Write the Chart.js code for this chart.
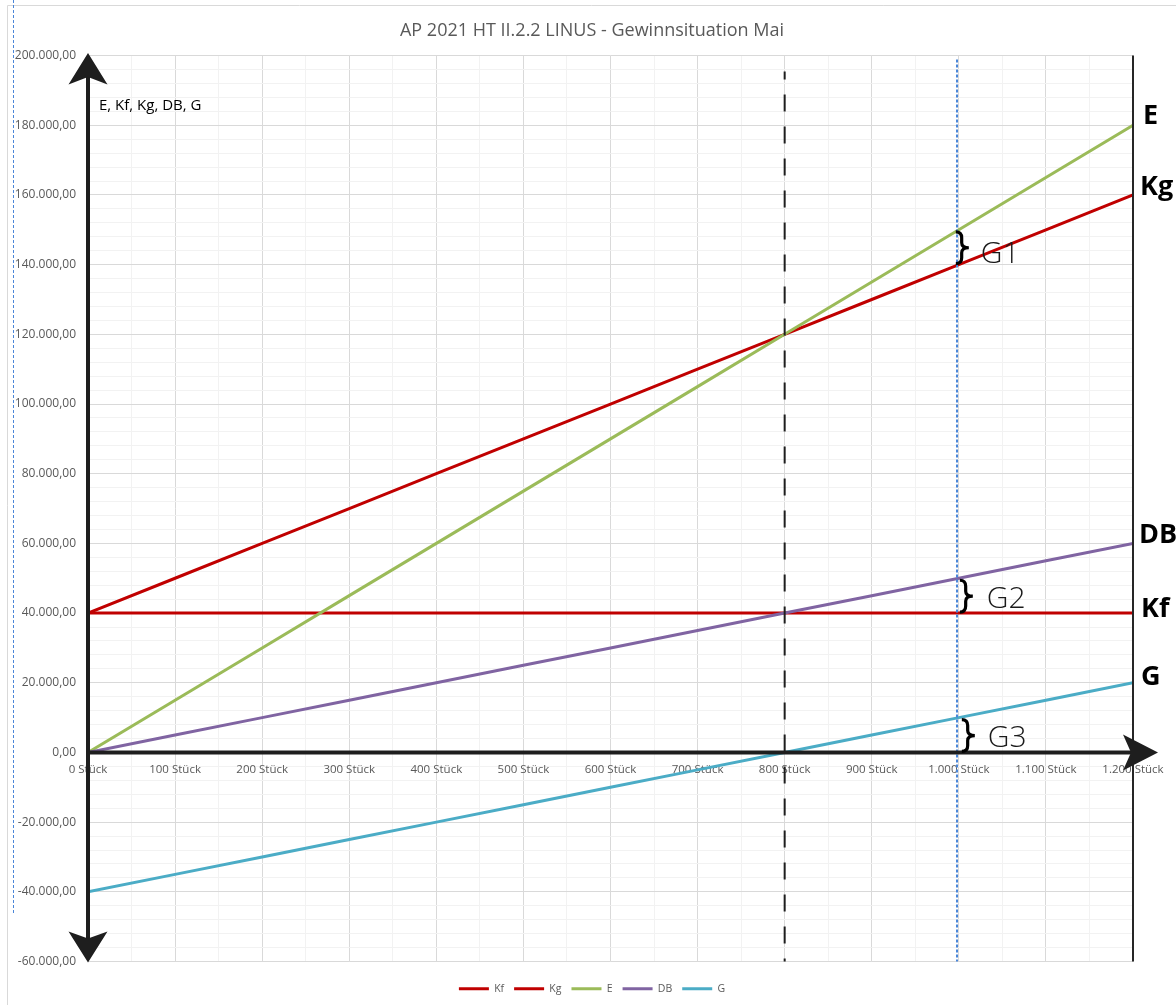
<!DOCTYPE html>
<html lang="de">
<head>
<meta charset="utf-8">
<title>AP 2021 HT II.2.2 LINUS - Gewinnsituation Mai</title>
<script src="https://cdn.jsdelivr.net/npm/chart.js@4.4.1/dist/chart.umd.min.js"></script>
<style>
  html, body { margin: 0; padding: 0; background: #ffffff; }
  #wrap { position: relative; width: 1176px; height: 1005px; }
</style>
</head>
<body>
<div id="wrap"><canvas id="chart"></canvas></div>
<script>
// Gewinnsituation Mai: Erlös, fixe Kosten, Gesamtkosten, Deckungsbeitrag, Gewinn
const chartTitle = 'AP 2021 HT II.2.2 LINUS - Gewinnsituation Mai';
const axisCaption = 'E, Kf, Kg, DB, G';

const mengen = [0, 100, 200, 300, 400, 500, 600, 700, 800, 900, 1000, 1100, 1200];
const kf     = [40000, 40000, 40000, 40000, 40000, 40000, 40000, 40000, 40000, 40000, 40000, 40000, 40000];
const kg     = [40000, 50000, 60000, 70000, 80000, 90000, 100000, 110000, 120000, 130000, 140000, 150000, 160000];
const erloes = [0, 15000, 30000, 45000, 60000, 75000, 90000, 105000, 120000, 135000, 150000, 165000, 180000];
const db     = [0, 5000, 10000, 15000, 20000, 25000, 30000, 35000, 40000, 45000, 50000, 55000, 60000];
const gewinn = [-40000, -35000, -30000, -25000, -20000, -15000, -10000, -5000, 0, 5000, 10000, 15000, 20000];

const seriesNames = ['Kf', 'Kg', 'E', 'DB', 'G'];
const seriesValues = [kf, kg, erloes, db, gewinn];
const seriesColors = ['#c00000', '#c00000', '#9bbb59', '#8064a2', '#4bacc6'];

// Gewinnschwelle und betrachtete Absatzmenge
const breakEvenMenge = 800;
const planMenge = 1000;

// German number format
function deNumber(v, decimals) {
  const neg = v < 0;
  const fixed = Math.abs(v).toFixed(decimals);
  const parts = fixed.split('.');
  const intPart = parts[0].replace(/\B(?=(\d{3})+(?!\d))/g, '.');
  return (neg ? '-' : '') + intPart + (parts[1] ? ',' + parts[1] : '');
}

function valueAt(arr, menge) {
  return arr[mengen.indexOf(menge)];
}

Chart.defaults.font.family = "'Open Sans', 'Noto Sans', 'DejaVu Sans', sans-serif";

function arrowHead(ctx, tipX, tipY, dirX, dirY, len, halfW, notch) {
  const bx = tipX - dirX * len, by = tipY - dirY * len;
  const px = -dirY, py = dirX;
  const nx = tipX - dirX * notch, ny = tipY - dirY * notch;
  ctx.beginPath();
  ctx.moveTo(tipX, tipY);
  ctx.lineTo(bx + px * halfW, by + py * halfW);
  ctx.lineTo(nx, ny);
  ctx.lineTo(bx - px * halfW, by - py * halfW);
  ctx.closePath();
  ctx.fill();
}

function brace(ctx, x, yTop, yBot, w) {
  const ym = (yTop + yBot) / 2;
  const xc = x + w * 0.45;
  ctx.beginPath();
  ctx.moveTo(x, yTop);
  ctx.quadraticCurveTo(xc, yTop, xc, yTop + 6);
  ctx.lineTo(xc, ym - 5);
  ctx.quadraticCurveTo(xc, ym, x + w, ym);
  ctx.quadraticCurveTo(xc, ym, xc, ym + 5);
  ctx.lineTo(xc, yBot - 6);
  ctx.quadraticCurveTo(xc, yBot, x, yBot);
  ctx.stroke();
}

const decorations = {
  id: 'decorations',
  beforeDraw(chart) {
    const ctx = chart.ctx;
    ctx.save();
    // outer frame
    ctx.strokeStyle = '#d9d9d9';
    ctx.lineWidth = 1;
    ctx.beginPath();
    ctx.moveTo(7.5, chart.height);
    ctx.lineTo(7.5, 5.5);
    ctx.lineTo(chart.width, 5.5);
    ctx.stroke();
    // selection marker at left edge
    ctx.strokeStyle = '#4a86d8';
    ctx.setLineDash([3, 2]);
    ctx.beginPath();
    ctx.moveTo(13.5, 0);
    ctx.lineTo(13.5, 913);
    ctx.stroke();
    ctx.restore();
  },
  afterDatasetsDraw(chart) {
    const ctx = chart.ctx;
    const xs = chart.scales.x, ys = chart.scales.y;
    const area = chart.chartArea;
    const x0 = xs.getPixelForValue(0);
    const y0 = ys.getPixelForValue(0);
    const xEnd = xs.getPixelForValue(1200);
    ctx.save();

    // Gewinnschwelle (dashed)
    const xBe = xs.getPixelForValue(breakEvenMenge);
    ctx.strokeStyle = '#1e1e1e';
    ctx.lineWidth = 2;
    ctx.setLineDash([17, 15]);
    ctx.lineDashOffset = 9;
    ctx.beginPath();
    ctx.moveTo(xBe, area.top + 16);
    ctx.lineTo(xBe, area.bottom);
    ctx.stroke();

    // Absatzmenge 1.000 Stück (dotted blue)
    const xPlan = xs.getPixelForValue(planMenge);
    const xDot = Math.round(xPlan - 1.5);
    ctx.strokeStyle = '#4a86d8';
    ctx.lineWidth = 2;
    ctx.setLineDash([3, 2]);
    ctx.lineDashOffset = 0;
    ctx.beginPath();
    ctx.moveTo(xDot, area.top + 4);
    ctx.lineTo(xDot, area.bottom);
    ctx.stroke();
    ctx.setLineDash([]);

    // right border
    ctx.strokeStyle = '#262626';
    ctx.lineWidth = 2;
    ctx.beginPath();
    ctx.moveTo(xEnd, area.top);
    ctx.lineTo(xEnd, area.bottom);
    ctx.stroke();

    // axes with arrow heads
    ctx.strokeStyle = '#1e1e1e';
    ctx.fillStyle = '#1e1e1e';
    ctx.lineWidth = 4;
    ctx.beginPath();
    ctx.moveTo(x0, area.top + 20);
    ctx.lineTo(x0, area.bottom - 20);
    ctx.stroke();
    arrowHead(ctx, x0, area.top - 2.5, 0, -1, 31.5, 19.5, 24);
    arrowHead(ctx, x0, area.bottom + 1, 0, 1, 31, 19.5, 24);
    ctx.beginPath();
    ctx.moveTo(x0, y0);
    ctx.lineTo(xEnd + 2, y0);
    ctx.stroke();
    arrowHead(ctx, xEnd + 25, y0, 1, 0, 35, 18, 27);

    // axis caption
    ctx.fillStyle = '#000000';
    ctx.font = "15px 'Open Sans', 'Noto Sans', sans-serif";
    ctx.textAlign = 'left';
    ctx.textBaseline = 'middle';
    ctx.fillText(axisCaption, x0 + 11, 106);

    // series names at the right end
    ctx.font = "bold 27px 'Open Sans', 'Noto Sans', sans-serif";
    const endLabels = [
      { text: 'E',  arr: erloes, dy: -9,  dx: 10 },
      { text: 'Kg', arr: kg,     dy: -8,  dx: 7 },
      { text: 'DB', arr: db,     dy: -8,  dx: 6 },
      { text: 'Kf', arr: kf,     dy: -4,  dx: 8 },
      { text: 'G',  arr: gewinn, dy: -5,  dx: 8 }
    ];
    endLabels.forEach(l => {
      const y = ys.getPixelForValue(valueAt(l.arr, 1200));
      ctx.fillText(l.text, xEnd + l.dx, y + l.dy);
    });

    // Gewinn-Klammern bei 1.000 Stück
    const braces = [
      { top: erloes, bot: kg, label: 'G1', bx: -3, tx: 22, ty: 7 },
      { top: db, bot: kf, label: 'G2', bx: 1, tx: 28, ty: 4 },
      { top: gewinn, bot: null, label: 'G3', bx: 3, tx: 29, ty: 3 }
    ];
    braces.forEach(b => {
      const yT = ys.getPixelForValue(valueAt(b.top, planMenge));
      const yB = b.bot ? ys.getPixelForValue(valueAt(b.bot, planMenge)) : y0;
      ctx.strokeStyle = '#000000';
      ctx.lineWidth = 3.2;
      brace(ctx, xPlan + b.bx, yT + 2, yB - 1, 13);
      ctx.fillStyle = '#1a1a1a';
      ctx.font = "300 30px 'Open Sans', Lato, 'Noto Sans', sans-serif";
      ctx.fillText(b.label, xPlan + b.tx, (yT + yB) / 2 + b.ty);
    });

    ctx.restore();
  }
};

const datasets = seriesNames.map((name, i) => ({
  label: name,
  data: mengen.map((m, j) => ({ x: m, y: seriesValues[i][j] })),
  borderColor: seriesColors[i],
  backgroundColor: seriesColors[i],
  borderWidth: 3,
  pointRadius: 0,
  tension: 0,
  order: seriesNames.length - i
}));

new Chart(document.getElementById('chart'), {
  type: 'line',
  data: { datasets },
  options: {
    responsive: true,
    maintainAspectRatio: false,
    animation: false,
    layout: { padding: { top: 0, right: 0, bottom: 1, left: 8 } },
    plugins: {
      title: {
        display: true,
        text: chartTitle,
        color: '#595959',
        font: { size: 18, weight: 'normal' },
        padding: { top: 20, bottom: 14 }
      },
      legend: {
        position: 'bottom',
        title: { display: true, text: '', font: { size: 10 }, padding: 0 },
        labels: {
          boxWidth: 30,
          boxHeight: 3,
          padding: 10,
          color: '#595959',
          font: { size: 10.5 },
          sort: (a, b) => a.datasetIndex - b.datasetIndex,
          generateLabels(chart) {
            const items = Chart.defaults.plugins.legend.labels.generateLabels(chart);
            items.forEach(it => { it.lineWidth = 0; it.fillStyle = it.strokeStyle; });
            return items;
          }
        }
      },
      tooltip: { enabled: false }
    },
    scales: {
      x: {
        type: 'linear',
        position: { y: 0 },
        min: 0,
        max: 1200,
        ticks: {
          stepSize: 50,
          autoSkip: false,
          maxRotation: 0,
          padding: 10,
          color: '#595959',
          font: { size: 11.5 },
          callback: v => (v % 100 === 0 ? deNumber(v, 0) + ' Stück' : '')
        },
        grid: {
          drawTicks: false,
          color: c => (c.tick && c.tick.value % 100 === 0 ? '#d9d9d9' : '#f2f2f2')
        },
        border: { display: false }
      },
      y: {
        type: 'linear',
        min: -60000,
        max: 200000,
        ticks: {
          stepSize: 4000,
          autoSkip: false,
          padding: 12,
          color: '#595959',
          font: { size: 12 },
          callback: v => (v % 20000 === 0 ? deNumber(v, 2) : '')
        },
        grid: {
          drawTicks: false,
          color: c => (c.tick && c.tick.value % 20000 === 0 ? '#d9d9d9' : '#f2f2f2')
        },
        border: { display: false },
        afterFit(scale) { scale.width = 80; }
      },
      // space on the right for the series names
      yRight: {
        type: 'linear',
        position: 'right',
        min: -60000,
        max: 200000,
        grid: { display: false, drawTicks: false },
        ticks: { display: false },
        border: { display: false },
        afterFit(scale) { scale.width = 43; }
      }
    }
  },
  plugins: [decorations]
});
</script>
</body>
</html>
